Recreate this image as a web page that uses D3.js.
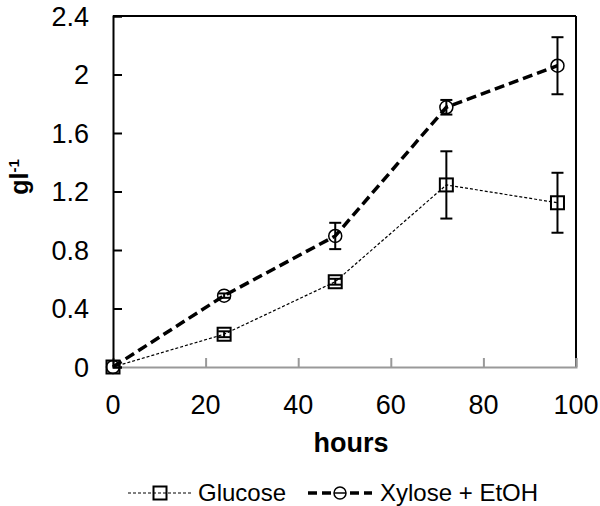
<!DOCTYPE html>
<html><head><meta charset="utf-8">
<script src="https://cdn.jsdelivr.net/npm/d3@7"></script>
<style>body{margin:0;background:#fff}svg{display:block}text{font-family:"Liberation Sans",Arial,sans-serif}</style>
</head><body>
<script>
const hours = [0, 24, 48, 72, 96];
const glucose = [0, 0.224, 0.583, 1.245, 1.123];
const glucoseErr = [0, 0.02, 0.02, 0.23, 0.205];
const xylose = [0, 0.488, 0.896, 1.776, 2.06];
const xyloseErr = [0, 0.015, 0.09, 0.05, 0.195];
const xTicks = [0, 20, 40, 60, 80, 100];
const yTicks = [0, 0.4, 0.8, 1.2, 1.6, 2, 2.4];

const W = 600, H = 506;
const svg = d3.select("body").append("svg").attr("width", W).attr("height", H);
const x = d3.scaleLinear().domain([0, 100]).range([113, 576]);
const y = d3.scaleLinear().domain([0, 2.4]).range([367, 16]);

// frame: top and right
svg.append("line").attr("x1", x(0)).attr("x2", x(100)).attr("y1", y(2.4)).attr("y2", y(2.4)).attr("stroke", "#000").attr("stroke-width", 2);
svg.append("line").attr("x1", x(100)).attr("x2", x(100)).attr("y1", y(2.4)).attr("y2", y(0)).attr("stroke", "#000").attr("stroke-width", 2);

// x axis (gray)
const xa = svg.append("g").attr("transform", `translate(0,${y(0)})`)
  .call(d3.axisTop(x).tickValues(xTicks).tickSize(9).tickFormat(""));
xa.select(".domain").attr("stroke", "#999").attr("stroke-width", 2);
xa.selectAll(".tick line").attr("stroke", "#999").attr("stroke-width", 2);
svg.append("g").selectAll("text").data(xTicks).join("text")
  .attr("x", d => x(d)).attr("y", 414).attr("text-anchor", "middle")
  .attr("font-size", 27).text(d => d);

// y axis (black, inward ticks)
const ya = svg.append("g").attr("transform", `translate(${x(0)},0)`)
  .call(d3.axisRight(y).tickValues(yTicks).tickSize(9).tickFormat(""));
ya.select(".domain").attr("stroke", "#000").attr("stroke-width", 2);
ya.selectAll(".tick line").attr("stroke", "#000").attr("stroke-width", 2);
svg.append("g").selectAll("text").data(yTicks).join("text")
  .attr("x", 89).attr("y", d => y(d) + 9.5).attr("text-anchor", "end")
  .attr("font-size", 27).text(d => d);

// axis titles
svg.append("text").attr("x", 351).attr("y", 452).attr("text-anchor", "middle")
  .attr("font-size", 27).attr("font-weight", "bold").text("hours");
const yl = svg.append("text").attr("transform", "translate(28,177) rotate(-90)")
  .attr("text-anchor", "middle").attr("font-size", 25).attr("font-weight", "bold");
yl.append("tspan").text("gl");
yl.append("tspan").attr("dy", -9).attr("font-size", 15).text("-1");

const line = d3.line().x(d => x(d[0])).y(d => y(d[1]));
const gData = hours.map((h, i) => [h, glucose[i], glucoseErr[i]]);
const xData = hours.map((h, i) => [h, xylose[i], xyloseErr[i]]);

// lines
svg.append("path").attr("d", line(gData)).attr("fill", "none").attr("stroke", "#000")
  .attr("stroke-width", 1.2).attr("stroke-dasharray", "3,2");
svg.append("path").attr("d", line(xData)).attr("fill", "none").attr("stroke", "#000")
  .attr("stroke-width", 3.5).attr("stroke-dasharray", "10,5");

// error bars
function errBars(data) {
  const g = svg.append("g").attr("stroke", "#000").attr("stroke-width", 2);
  data.filter(d => d[2] > 0).forEach(d => {
    const cx = x(d[0]), t = y(d[1] + d[2]), b = y(d[1] - d[2]);
    g.append("line").attr("x1", cx).attr("x2", cx).attr("y1", t).attr("y2", b);
    g.append("line").attr("x1", cx - 6).attr("x2", cx + 6).attr("y1", t).attr("y2", t);
    g.append("line").attr("x1", cx - 6).attr("x2", cx + 6).attr("y1", b).attr("y2", b);
  });
}
errBars(gData);
errBars(xData);

// markers
svg.append("g").selectAll("rect").data(gData).join("rect")
  .attr("x", d => x(d[0]) - 6.5).attr("y", d => y(d[1]) - 6.5)
  .attr("width", 13).attr("height", 13).attr("fill", "none").attr("stroke", "#000").attr("stroke-width", 2);
svg.append("g").selectAll("circle").data(xData).join("circle")
  .attr("cx", d => x(d[0])).attr("cy", d => y(d[1])).attr("r", 6.5)
  .attr("fill", "none").attr("stroke", "#000").attr("stroke-width", 1.5);

// legend
const ly = 493;
svg.append("line").attr("x1", 128).attr("x2", 192).attr("y1", ly).attr("y2", ly)
  .attr("stroke", "#000").attr("stroke-width", 1.2).attr("stroke-dasharray", "3,2");
svg.append("rect").attr("x", 153.5).attr("y", ly - 6.5).attr("width", 13).attr("height", 13)
  .attr("fill", "none").attr("stroke", "#000").attr("stroke-width", 2);
svg.append("text").attr("x", 198).attr("y", 501).attr("font-size", 24).text("Glucose");
svg.append("line").attr("x1", 308).attr("x2", 372).attr("y1", ly).attr("y2", ly)
  .attr("stroke", "#000").attr("stroke-width", 3.5).attr("stroke-dasharray", "9,5");
svg.append("circle").attr("cx", 340).attr("cy", ly).attr("r", 6).attr("fill", "#fff")
  .attr("stroke", "#000").attr("stroke-width", 1.5);
svg.append("line").attr("x1", 334).attr("x2", 346).attr("y1", ly).attr("y2", ly)
  .attr("stroke", "#000").attr("stroke-width", 1.5);
svg.append("text").attr("x", 380).attr("y", 501).attr("font-size", 24).text("Xylose + EtOH");
</script>
</body></html>
